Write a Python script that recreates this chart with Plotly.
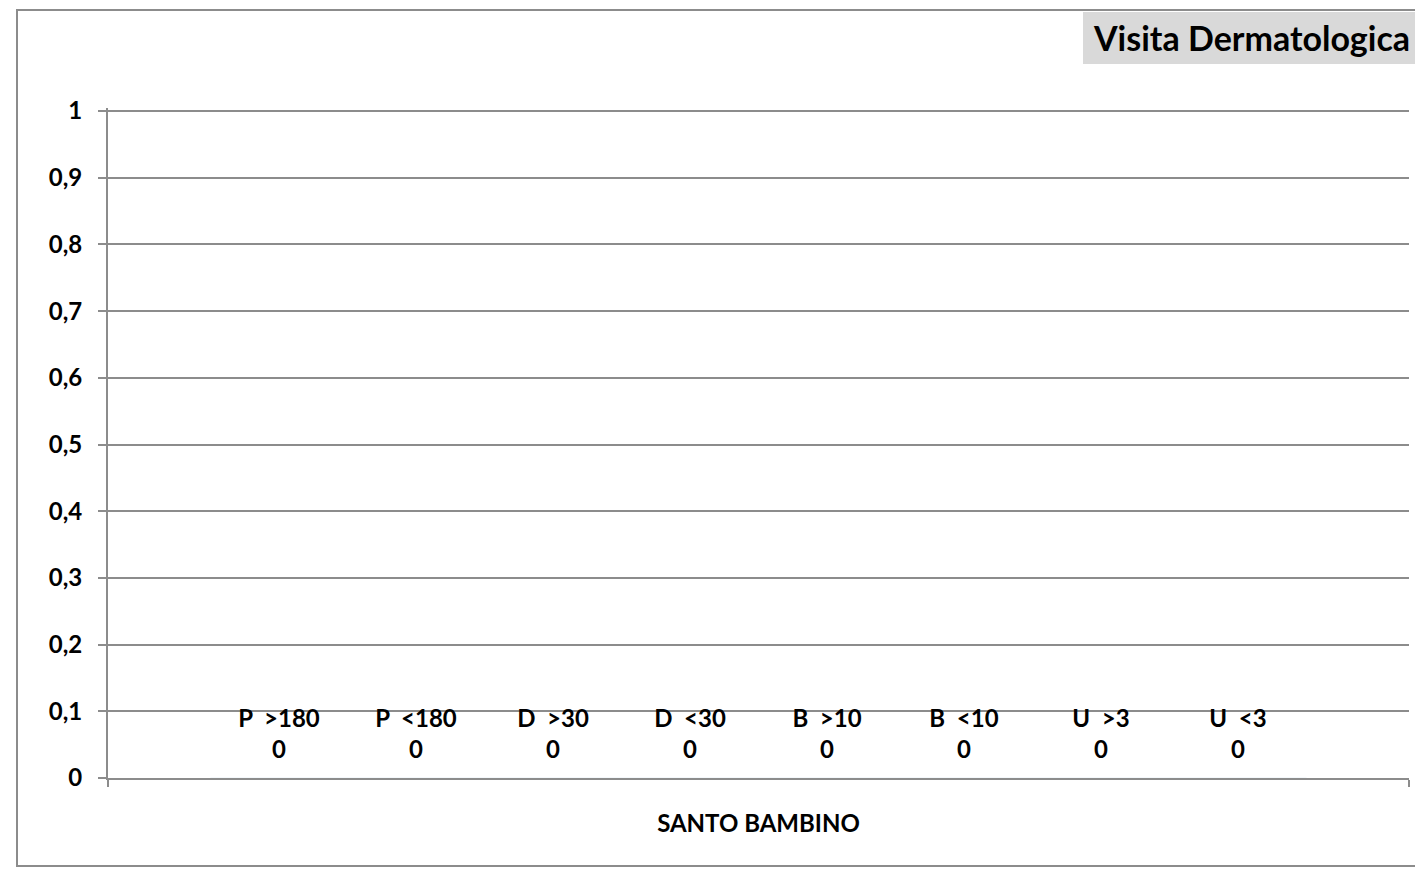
import plotly.graph_objects as go

categories = ["SANTO BAMBINO"]
series_names = ["P\u00a0\u00a0>180", "P\u00a0\u00a0<180", "D\u00a0\u00a0>30", "D\u00a0\u00a0<30",
                "B\u00a0\u00a0>10", "B\u00a0\u00a0<10", "U\u00a0\u00a0>3", "U\u00a0\u00a0<3"]
series_values = [[0], [0], [0], [0], [0], [0], [0], [0]]
y_ticks = [0, 0.1, 0.2, 0.3, 0.4, 0.5, 0.6, 0.7, 0.8, 0.9, 1]
chart_title = "Visita Dermatologica"

FONT = "Lato"
GRID = "#8c8c8c"

# page has an 8px body margin; figure sized to fit inside 1423x869 viewport
W, H = 1415, 861
ML, MR, MT, MB = 100, 14, 100, 91
PW, PH = W - ML - MR, H - MT - MB
OFF = 8


def px(xp):  # page x pixel -> paper
    return (xp - OFF - ML) / PW


def py(yp):  # page y pixel -> paper
    return (MT + PH - (yp - OFF)) / PH


fig = go.Figure()
for name, vals in zip(series_names, series_values):
    fig.add_trace(go.Bar(
        x=categories, y=vals, name=name, offsetgroup=name,
        marker=dict(color="#4f81bd"), showlegend=False, hoverinfo="skip",
    ))
for name, vals in zip(series_names, series_values):
    fig.add_trace(go.Scatter(
        x=categories, y=vals, name=name, offsetgroup=name,
        mode="markers+text", text=[f"{name}<br>{v}" for v in vals],
        textposition="top center", cliponaxis=False,
        textfont=dict(family=FONT, size=24, color="black", weight="bold"),
        marker=dict(size=20, color="rgba(0,0,0,0)"),
        showlegend=False, hoverinfo="skip",
    ))

fig.update_layout(
    width=W, height=H,
    paper_bgcolor="white", plot_bgcolor="white",
    margin=dict(l=ML, r=MR, t=MT, b=MB),
    barmode="group", bargap=0.1576, bargroupgap=0,
    scattermode="group", scattergap=0.1576,
    separators=",.",
    font=dict(family=FONT, color="black"),
)
fig.update_yaxes(
    range=[0, 1.0045], tickvals=y_ticks, tickformat=".1~f",
    showgrid=True, gridcolor=GRID, gridwidth=2,
    showline=True, linecolor=GRID, linewidth=2,
    ticks="outside", ticklen=8, tickcolor=GRID, tickwidth=2,
    tickfont=dict(family=FONT, size=24, color="black", weight="bold"),
    ticklabelstandoff=11, zeroline=False,
)
fig.update_xaxes(
    showline=True, linecolor=GRID, linewidth=2,
    ticks="outside", tickson="boundaries", ticklen=7, tickcolor=GRID, tickwidth=2,
    tickfont=dict(family=FONT, size=24, color="black", weight="bold"),
    ticklabelstandoff=23,
)

# chart border
fig.add_shape(type="rect", xref="paper", yref="paper",
              x0=px(17), x1=px(1440), y0=py(866), y1=py(10),
              line=dict(color="#8c8c8c", width=2), layer="below")
# title box
fig.add_shape(type="rect", xref="paper", yref="paper",
              x0=px(1083), x1=px(1440), y0=py(64), y1=py(12),
              line=dict(width=0), fillcolor="#d9d9d9", layer="below")

fig.add_annotation(
    text=f"<b>{chart_title}</b>", xref="paper", yref="paper",
    x=px(1411), y=py(38), xanchor="right", yanchor="middle",
    showarrow=False, borderpad=0,
    font=dict(family=FONT, size=34, color="black"),
)

fig.write_html("out.html")
